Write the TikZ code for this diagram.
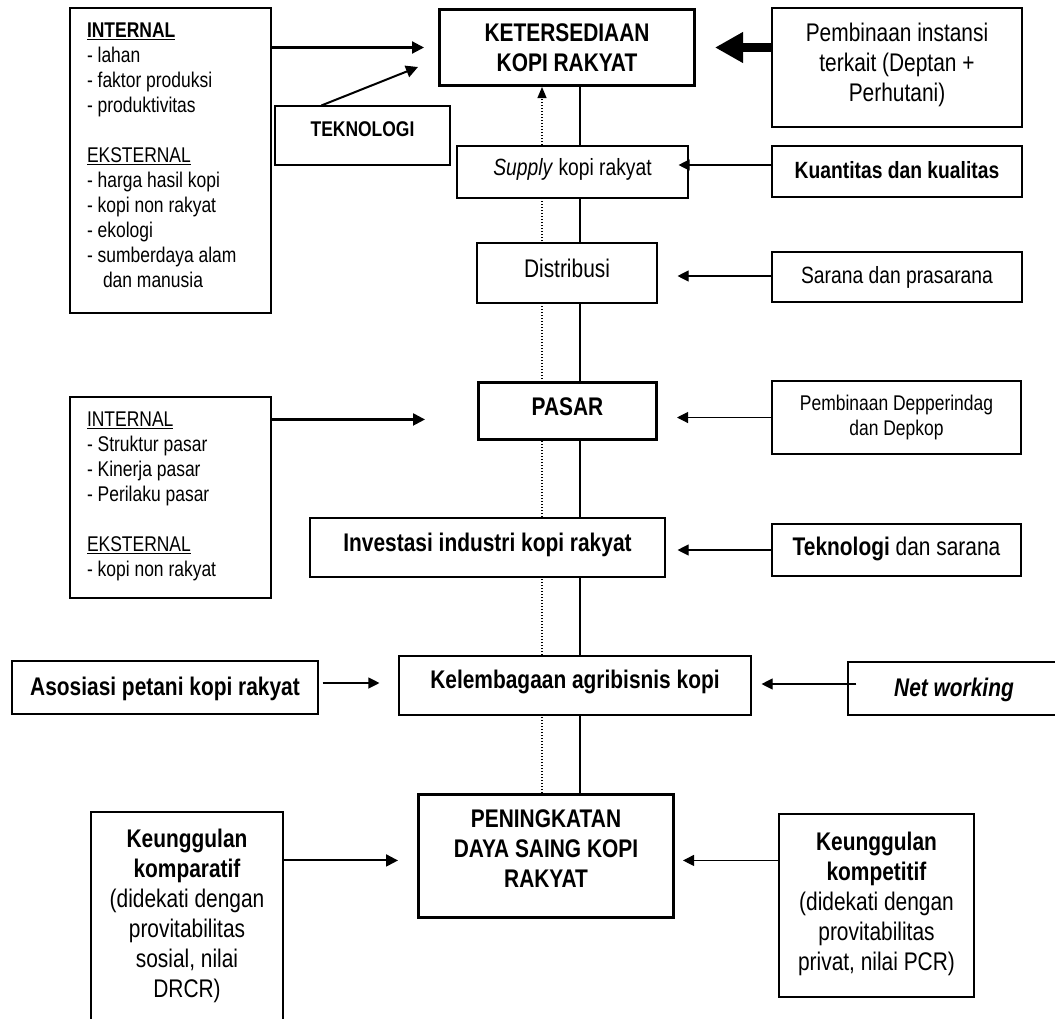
\documentclass[tikz,border=0pt]{standalone}
\usepackage{fontspec}
\setmainfont{Liberation Sans}[FakeStretch=0.82]
\usetikzlibrary{arrows.meta,calc,backgrounds}
\newcommand\fbig{\fontsize{25.5}{30}\selectfont}
\newcommand\fmed{\fontsize{23.5}{28}\selectfont}
\newcommand\fsml{\fontsize{21.3}{25}\selectfont}
\newcommand\stk[2]{\raisebox{#1}[\height][\depth]{\begin{tabular}{@{}c@{}}#2\end{tabular}}}
\newcommand\lst[2]{\raisebox{#1}[\height][\depth]{\begin{tabular}{@{}p{167pt}@{}}#2\end{tabular}}}
\begin{document}
\begin{tikzpicture}[x=1pt,y=-1pt,
  box/.style={draw, line width=1.1pt, fill=white, inner sep=0pt, font=\fbig},
  tbox/.style={box, line width=3pt},
  arr/.style={-{Triangle[length=11pt,width=11pt]}, line width=1.1pt},
  tarr/.style={-{Triangle[length=12pt,width=12pt]}, line width=2.2pt}]
\useasboundingbox (0,0) rectangle (1055,1018);

% top row
\node[box, font=\fsml, inner xsep=17pt, minimum height=305pt] (lb1) at (170.5,160.5)
  {\lst{2.8pt}{\textbf{\underline{INTERNAL}}\\
  - lahan\\
  - faktor produksi\\
  - produktivitas\\
  \\
  \underline{EKSTERNAL}\\
  - harga hasil kopi\\
  - kopi non rakyat\\
  - ekologi\\
  - sumberdaya alam\\
  \hspace*{16pt}dan manusia}};
\node[tbox, minimum width=255pt, minimum height=76pt] (ket) at (567,47.5)
  {\stk{-3pt}{\textbf{KETERSEDIAAN}\\\textbf{KOPI RAKYAT}}};
\node[box, minimum width=250pt, minimum height=119pt] (pemb1) at (897,67.5)
  {\stk{1.8pt}{Pembinaan instansi\\terkait (Deptan +\\Perhutani)}};
\node[box, font=\fsml, minimum width=175pt, minimum height=59pt] (tek) at (362.5,135.5)
  {\stk{4.5pt}{\textbf{TEKNOLOGI}}};
\node[box, font=\fmed, minimum width=231pt, minimum height=52pt] (supply) at (572.5,172)
  {\stk{2pt}{\textit{Supply} kopi rakyat}};
\node[box, font=\fmed, minimum width=250pt, minimum height=51pt] (kuant) at (897,171.5)
  {\stk{-1pt}{\textbf{Kuantitas dan kualitas}}};
\node[box, minimum width=180pt, minimum height=60pt] (dist) at (567,273)
  {\stk{1.3pt}{Distribusi}};
\node[box, font=\fmed, minimum width=250pt, minimum height=50pt] (sarana) at (897,277)
  {\stk{-1pt}{Sarana dan prasarana}};

% middle
\node[tbox, minimum width=178pt, minimum height=57pt] (pasar) at (567.5,411)
  {\stk{1.8pt}{\textbf{PASAR}}};
\node[box, font=\fsml, minimum width=249pt, minimum height=73pt] (pemb2) at (896.5,417.5)
  {\stk{-0.9pt}{Pembinaan Depperindag\\dan Depkop}};
\node[box, font=\fsml, inner xsep=17pt, minimum height=201pt] (lb2) at (170.5,497.5)
  {\lst{0.8pt}{\underline{INTERNAL}\\
  - Struktur pasar\\
  - Kinerja pasar\\
  - Perilaku pasar\\
  \\
  \underline{EKSTERNAL}\\
  - kopi non rakyat}};
\node[box, minimum width=355pt, minimum height=59pt] (invest) at (487.5,547.5)
  {\stk{1.8pt}{\textbf{Investasi industri kopi rakyat}}};
\node[box, minimum width=249pt, minimum height=52pt] (teksar) at (896.5,550)
  {\stk{0.3pt}{\textbf{Teknologi} dan sarana}};
\node[box, minimum width=306pt, minimum height=53pt] (asos) at (165,687.5)
  {\stk{-1.7pt}{\textbf{Asosiasi petani kopi rakyat}}};
\node[box, minimum width=352pt, minimum height=59pt] (kelem) at (575,685.5)
  {\stk{3.3pt}{\textbf{Kelembagaan agribisnis kopi}}};
\node[box, minimum width=212pt, minimum height=53pt] (net) at (954,688.5)
  {\stk{-2.2pt}{\textbf{\textit{Net working}}}};

% bottom
\node[tbox, minimum width=255pt, minimum height=123pt] (pening) at (546,856)
  {\stk{4.3pt}{\textbf{PENINGKATAN}\\\textbf{DAYA SAING KOPI}\\\textbf{RAKYAT}}};
\node[box, minimum width=192pt, minimum height=218pt] (komp) at (187,921)
  {\stk{4.8pt}{\textbf{Keunggulan}\\\textbf{komparatif}\\(didekati dengan\\provitabilitas\\sosial, nilai\\DRCR)}};
\node[box, minimum width=195pt, minimum height=183pt] (kompet) at (876.5,905.5)
  {\stk{1.3pt}{\textbf{Keunggulan}\\\textbf{kompetitif}\\(didekati dengan\\provitabilitas\\privat, nilai PCR)}};

% helper coordinates
\coordinate (vx) at (580,0);
\coordinate (dx) at (542,0);
\coordinate (s1) at ($(kuant.west)+(0,-6.5)$);
\coordinate (s2) at ($(sarana.west)+(0,-1)$);
\coordinate (s3) at ($(lb2.north east)+(0,23)$);
\coordinate (s4) at ($(asos.east)+(0,-4.5)$);
\coordinate (s5) at ($(net.west)+(0,-4.5)$);
\coordinate (s6) at ($(komp.north east)+(0,49)$);
\coordinate (s7) at ($(kompet.north west)+(0,47)$);

% central spine (behind boxes)
\begin{pgfonlayer}{background}
  \draw[line width=1.3pt] (ket.south -| vx) -- (pening.north -| vx);
  \draw[line width=1.2pt, dash pattern=on 1.2pt off 1.8pt,
        -{Triangle[length=11pt,width=9pt]}] (pening.north -| dx) -- (ket.south -| dx);
\end{pgfonlayer}

% connectors
\draw[tarr, shorten >=14pt] (lb1.east |- ket.west) -- (ket.west);
\draw[tarr, line width=2pt] ($(tek.north west)+(47,0)$) -- ($(ket.south west)+(-20,-20)$);
\draw[line width=9.5pt, -{Triangle[length=28pt,width=29pt]}, shorten >=19pt]
  (pemb1.west |- ket.east) -- (ket.east);
\draw[arr, shorten >=-10pt] (s1) -- (s1 -| supply.east);
\draw[arr, shorten >=20pt] (s2) -- (s2 -| dist.east);
\draw[arr, shorten >=19pt] (pemb2.west) -- (pemb2.west -| pasar.east);
\draw[tarr, shorten >=52pt] (s3) -- (s3 -| pasar.west);
\draw[arr, shorten >=12pt] (teksar.west) -- (teksar.west -| invest.east);
\draw[arr, shorten <=4pt, shorten >=19pt] (s4) -- (s4 -| kelem.west);
\draw[arr, shorten <=-9pt, shorten >=10pt] (s5) -- (s5 -| kelem.east);
\draw[tarr, line width=2pt, shorten >=19pt] (s6) -- (s6 -| pening.west);
\draw[arr, shorten >=8pt] (s7) -- (s7 -| pening.east);
\end{tikzpicture}
\end{document}
